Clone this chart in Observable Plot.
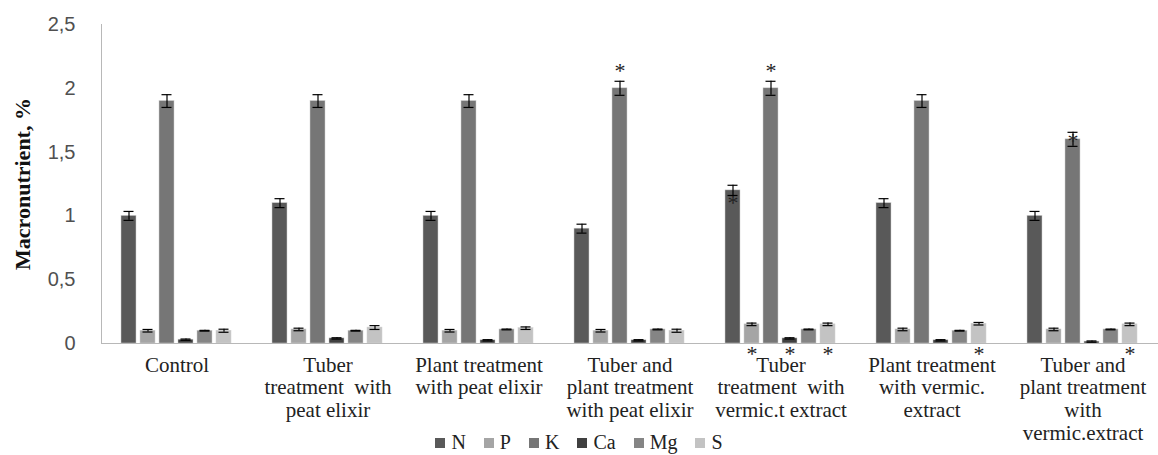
<!DOCTYPE html>
<html><head><meta charset="utf-8">
<script src="https://cdn.jsdelivr.net/npm/d3@7"></script>
<script src="https://cdn.jsdelivr.net/npm/@observablehq/plot@0.6"></script>
<style>
body{margin:0;background:#fff;}
#wrap{position:relative;width:1158px;height:455px;overflow:hidden;}
#legend{position:absolute;left:0;width:1158px;top:431px;text-align:center;font-family:"Liberation Serif","DejaVu Serif","Noto Serif",serif;font-size:20px;color:#222;line-height:22px;}
.item{display:inline-block;margin:0 9px;}
.sw{display:inline-block;width:10px;height:10px;margin-right:6px;vertical-align:1px;}
</style></head><body><div id="wrap"></div>
<script>
const groups = [
  "Control",
  "Tuber treatment with peat elixir",
  "Plant treatment with peat elixir",
  "Tuber and plant treatment with peat elixir",
  "Tuber treatment with vermic.t extract",
  "Plant treatment with vermic. extract",
  "Tuber and plant treatment with vermic.extract"
];
const groupLabels = [
  "Control",
  "Tuber\ntreatment \u00a0with\npeat elixir",
  "Plant treatment\nwith peat elixir",
  "Tuber and\nplant treatment\nwith peat elixir",
  "Tuber\ntreatment \u00a0with\nvermic.t extract",
  "Plant treatment\nwith vermic.\nextract",
  "Tuber and\nplant treatment\nwith\nvermic.extract"
];
const nutrients = ["N", "P", "K", "Ca", "Mg", "S"];
const colors = ["#595959", "#a5a5a5", "#767676", "#404040", "#858585", "#c3c3c3"];

const N  = [1.0, 1.1, 1.0, 0.9, 1.2, 1.1, 1.0];
const P  = [0.1, 0.11, 0.1, 0.1, 0.15, 0.11, 0.11];
const K  = [1.9, 1.9, 1.9, 2.0, 2.0, 1.9, 1.6];
const Ca = [0.03, 0.04, 0.025, 0.025, 0.04, 0.025, 0.015];
const Mg = [0.1, 0.1, 0.11, 0.11, 0.11, 0.1, 0.11];
const S  = [0.1, 0.125, 0.12, 0.1, 0.15, 0.155, 0.15];

const errN  = [0.035, 0.035, 0.035, 0.035, 0.04, 0.035, 0.035];
const errP  = [0.01, 0.01, 0.01, 0.01, 0.01, 0.01, 0.01];
const errK  = [0.05, 0.05, 0.05, 0.055, 0.055, 0.05, 0.055];
const errCa = [0.005, 0.005, 0.005, 0.005, 0.005, 0.005, 0.005];
const errMg = [0.003, 0.003, 0.003, 0.003, 0.003, 0.003, 0.003];
const errS  = [0.012, 0.015, 0.01, 0.012, 0.01, 0.01, 0.01];

// significance marks: [group index, nutrient, placement]
const sig = [
  [3, "K", "above"],
  [4, "N", "inside"],
  [4, "K", "above"],
  [4, "P", "below"],
  [4, "Ca", "below"],
  [4, "S", "below"],
  [5, "S", "below"],
  [6, "K", "top"],
  [6, "S", "below"]
];

const yTicks = [0, 0.5, 1, 1.5, 2, 2.5];

const series = [N, P, K, Ca, Mg, S];
const errs = [errN, errP, errK, errCa, errMg, errS];
const data = [];
groups.forEach((g, i) => nutrients.forEach((n, j) => {
  data.push({group: g, nutrient: n, value: series[j][i], err: errs[j][i]});
}));
const lookup = (gi, n) => data.find(d => d.group === groups[gi] && d.nutrient === n);
const dyMap = {above: -10, inside: 13, top: 2, below: 10};
const sigData = sig.map(([gi, n, where]) => {
  const d = lookup(gi, n);
  return {group: groups[gi], nutrient: n, where,
    y: where === "above" ? d.value + d.err : where === "below" ? 0 : d.value};
});

const serif = "'Liberation Serif','DejaVu Serif','Noto Serif',serif";
const sans = "'Liberation Sans',Arial,sans-serif";

const sigMarks = Object.keys(dyMap).map(w =>
  Plot.text(sigData.filter(d => d.where === w), {fx: "group", x: "nutrient", y: "y", text: () => "*",
    dy: dyMap[w], fontSize: 22, fontFamily: serif, fill: "#222"}));

const chart = Plot.plot({
  width: 1158,
  height: 455,
  marginLeft: 101,
  marginRight: 0,
  marginTop: 24,
  marginBottom: 112,
  style: {background: "white", overflow: "visible"},
  fx: {domain: groups, padding: 0, label: null},
  x: {domain: nutrients, paddingInner: 0.2, paddingOuter: 0.88, axis: null},
  y: {domain: [0, 2.5]},
  color: {domain: nutrients, range: colors},
  marks: [
    Plot.frame({anchor: "left", facetAnchor: "left", stroke: "#b8b8b8"}),
    Plot.barY(data, {fx: "group", x: "nutrient", y: "value", fill: "nutrient", stroke: "#d0d0d0", strokeWidth: 0.5}),
    Plot.ruleX(data, {fx: "group", x: "nutrient", y1: d => d.value - d.err, y2: d => d.value + d.err, stroke: "#000", strokeWidth: 1.2}),
    Plot.tickY(data, {fx: "group", x: "nutrient", y: d => d.value + d.err, stroke: "#000", strokeWidth: 1.2, inset: 2.5}),
    Plot.tickY(data, {fx: "group", x: "nutrient", y: d => d.value - d.err, stroke: "#000", strokeWidth: 1.2, inset: 2.5}),
    Plot.ruleY([0], {stroke: "#b8b8b8", strokeWidth: 1.2}),
    Plot.axisY({ticks: yTicks, tickFormat: d => String(d).replace(".", ","), tickSize: 0, tickPadding: 26,
      fontSize: 20, fontFamily: sans, fill: "#505050", label: null}),
    Plot.text(["Macronutrient, %"], {frameAnchor: "left", facetAnchor: "left", rotate: -90, dx: -79,
      textAnchor: "middle", fontFamily: serif, fontWeight: "bold", fontSize: 22, fill: "#111"}),
    Plot.axisFx({anchor: "bottom", tickSize: 0, tickPadding: 12, tickFormat: g => groupLabels[groups.indexOf(g)],
      fontSize: 21, fontFamily: serif, lineHeight: 1.08, lineAnchor: "top", fill: "#222", label: null}),
    ...sigMarks
  ]
});
document.getElementById("wrap").appendChild(chart);

const legend = document.createElement("div");
legend.id = "legend";
nutrients.forEach((n, j) => {
  const it = document.createElement("span");
  it.className = "item";
  const sw = document.createElement("span");
  sw.className = "sw";
  sw.style.background = colors[j];
  it.appendChild(sw);
  it.appendChild(document.createTextNode(n));
  legend.appendChild(it);
});
document.getElementById("wrap").appendChild(legend);
</script>
</body></html>
